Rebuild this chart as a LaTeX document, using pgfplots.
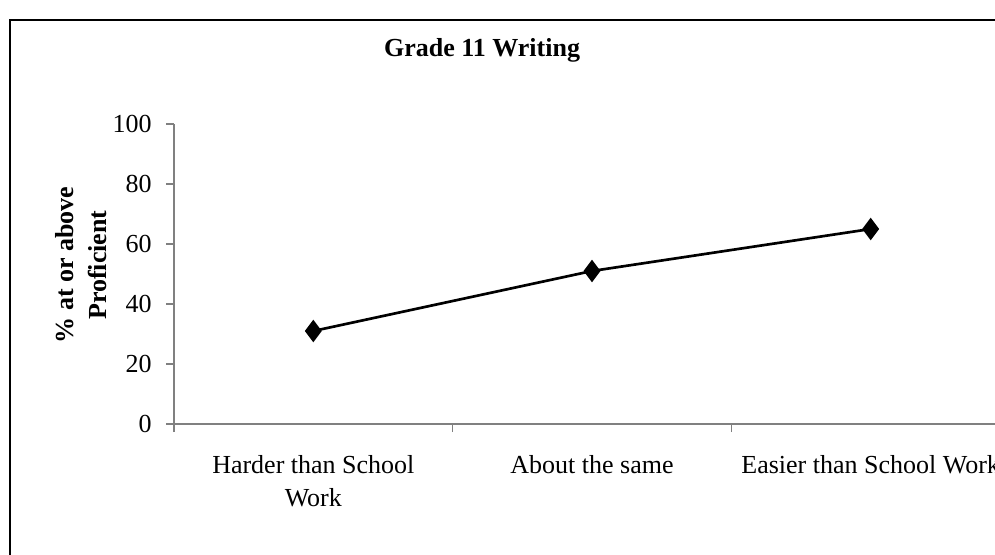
\documentclass[border=0pt]{standalone}
\usepackage{pgfplots}
\pgfplotsset{compat=1.18}
\usepackage{fontspec}
\setmainfont{Liberation Serif}
\begin{document}
\begin{tikzpicture}
\fontsize{19.5}{24.5}\selectfont
\useasboundingbox (0,0) rectangle (746.25pt,415.5pt);
\draw[line width=1.2pt] (7.5pt,-20pt) rectangle (780pt,400.5pt);
\node[font=\bfseries\fontsize{19.5}{24.5}\selectfont] at (361.5pt,378pt) {Grade 11 Writing};
\node[font=\bfseries\fontsize{19.5}{24.5}\selectfont, rotate=90, align=center] at (61pt,216.75pt) {\% at or above\\Proficient};
\begin{axis}[
  at={(130.5pt,97.5pt)}, anchor=south west,
  scale only axis, width=627pt, height=225pt,
  xmin=0, xmax=3, ymin=0, ymax=100,
  axis lines=left,
  axis line style={-, draw=gray, line width=0.9pt},
  tick style={draw=gray, line width=0.9pt},
  tick align=outside,
  major tick length=6pt,
  xtick={0,1,2,3},
  xticklabels={{Harder than School\\Work},{About the same},{Easier than School Work}},
  x tick label as interval,
  xticklabel style={align=center, yshift=-11pt},
  ytick={0,20,40,60,80,100},
  yticklabel style={xshift=-4pt},
  /pgf/number format/assume math mode=true,
  ticklabel style={font=\fontsize{19.5}{24.5}\selectfont},
  clip=false,
]
\addplot[black, line width=2pt, mark=diamond*, mark size=6.8pt, mark options={solid, fill=black}]
  coordinates {(0.5,31) (1.5,51) (2.5,65)};
\end{axis}
\end{tikzpicture}
\end{document}
